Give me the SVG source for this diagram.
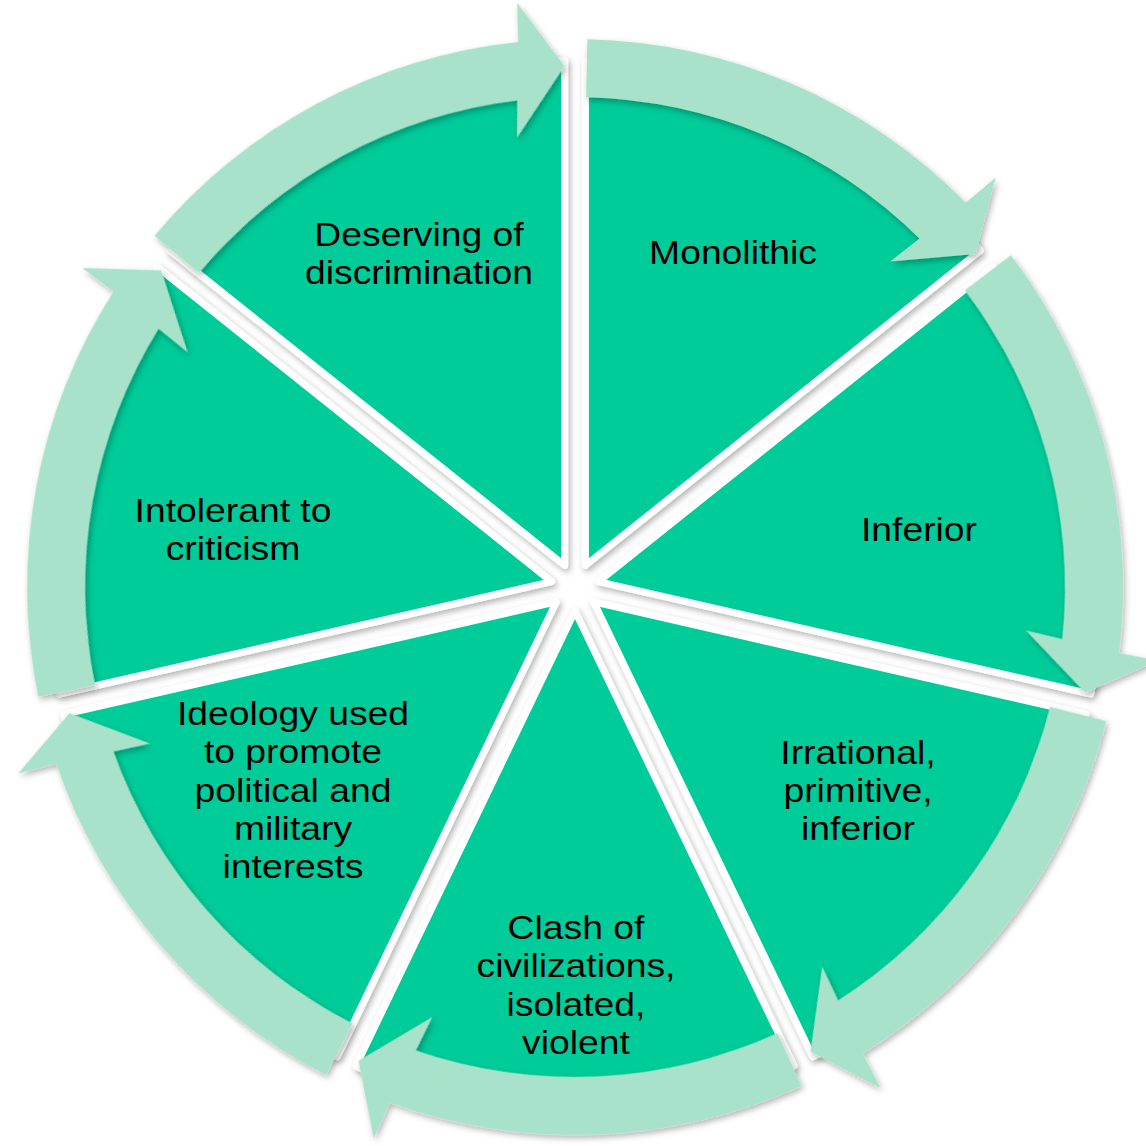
<svg xmlns="http://www.w3.org/2000/svg" xmlns:xlink="http://www.w3.org/1999/xlink" width="1146" height="1146" viewBox="0 0 1146 1146">
  <style>
    .wedge { fill: #00CC99; stroke: #FFFFFF; stroke-width: 7; stroke-linejoin: round; filter: url(#sh); }
    .arrow { fill: #A9E2CA; }
    .lbl { font-family: "Liberation Sans", Arial, sans-serif; font-size: 33px; fill: #000000; text-anchor: middle; }
  </style>
  <defs>
    <filter id="sh" x="-10%" y="-10%" width="125%" height="125%">
      <feDropShadow dx="2" dy="3" stdDeviation="3" flood-color="#000000" flood-opacity="0.3"/>
    </filter>
    <path id="arr" class="arrow" d="M 587.43 39.14 A 548 548 0 0 1 965.72 202.76 L 995.67 177.61 L 975.73 254.05 L 890.13 261.57 L 919.53 238.58 A 490 490 0 0 0 586.12 97.13 Z"/>
  </defs>
  <rect width="1146" height="1146" fill="#FFFFFF"/>

  <g id="node-monolithic">
    <path class="wedge" d="M 585.41 565.38 L 585.41 60.38 A 505 505 0 0 1 980.23 250.52 Z"/>
    <text class="lbl" transform="translate(733 0) scale(1.13 1)"><tspan x="0" y="264">Monolithic</tspan></text>
  </g>
  <g id="node-inferior">
    <path class="wedge" d="M 598.40 581.66 L 993.22 266.80 A 505 505 0 0 1 1090.74 694.03 Z"/>
    <text class="lbl" transform="translate(919 0) scale(1.13 1)"><tspan x="0" y="541">Inferior</tspan></text>
  </g>
  <g id="node-irrational">
    <path class="wedge" d="M 593.76 601.96 L 1086.10 714.33 A 505 505 0 0 1 812.87 1056.95 Z"/>
    <text class="lbl" transform="translate(858 0) scale(1.13 1)"><tspan x="0" y="764">Irrational,</tspan><tspan x="0" y="802">primitive,</tspan><tspan x="0" y="840">inferior</tspan></text>
  </g>
  <g id="node-clash">
    <path class="wedge" d="M 575 611 L 794.11 1065.99 A 505 505 0 0 1 355.89 1065.99 Z"/>
    <text class="lbl" transform="translate(576 0) scale(1.13 1)"><tspan x="0" y="939">Clash of</tspan><tspan x="0" y="977.5">civilizations,</tspan><tspan x="0" y="1016">isolated,</tspan><tspan x="0" y="1054">violent</tspan></text>
  </g>
  <g id="node-ideology">
    <path class="wedge" d="M 556.24 601.96 L 337.13 1056.95 A 505 505 0 0 1 63.90 714.33 Z"/>
    <text class="lbl" transform="translate(293 0) scale(1.13 1)"><tspan x="0" y="725">Ideology used</tspan><tspan x="0" y="763.3">to promote</tspan><tspan x="0" y="801.7">political and</tspan><tspan x="0" y="840">military</tspan><tspan x="0" y="878.3">interests</tspan></text>
  </g>
  <g id="node-intolerant">
    <path class="wedge" d="M 551.60 581.66 L 59.26 694.03 A 505 505 0 0 1 156.78 266.80 Z"/>
    <text class="lbl" transform="translate(233 0) scale(1.13 1)"><tspan x="0" y="522">Intolerant to</tspan><tspan x="0" y="560">criticism</tspan></text>
  </g>
  <g id="node-deserving">
    <path class="wedge" d="M 564.59 565.38 L 169.77 250.52 A 505 505 0 0 1 564.59 60.38 Z"/>
    <text class="lbl" transform="translate(419 0) scale(1.13 1)"><tspan x="0" y="246">Deserving of</tspan><tspan x="0" y="284">discrimination</tspan></text>
  </g>

  <g id="connectors" filter="url(#sh)">
    <use xlink:href="#arr" href="#arr"/>
    <use xlink:href="#arr" href="#arr" transform="rotate(51.4286 575 587)"/>
    <use xlink:href="#arr" href="#arr" transform="rotate(102.8571 575 587)"/>
    <use xlink:href="#arr" href="#arr" transform="rotate(154.2857 575 587)"/>
    <use xlink:href="#arr" href="#arr" transform="rotate(205.7143 575 587)"/>
    <use xlink:href="#arr" href="#arr" transform="rotate(257.1429 575 587)"/>
    <use xlink:href="#arr" href="#arr" transform="rotate(308.5714 575 587)"/>
  </g>
</svg>
